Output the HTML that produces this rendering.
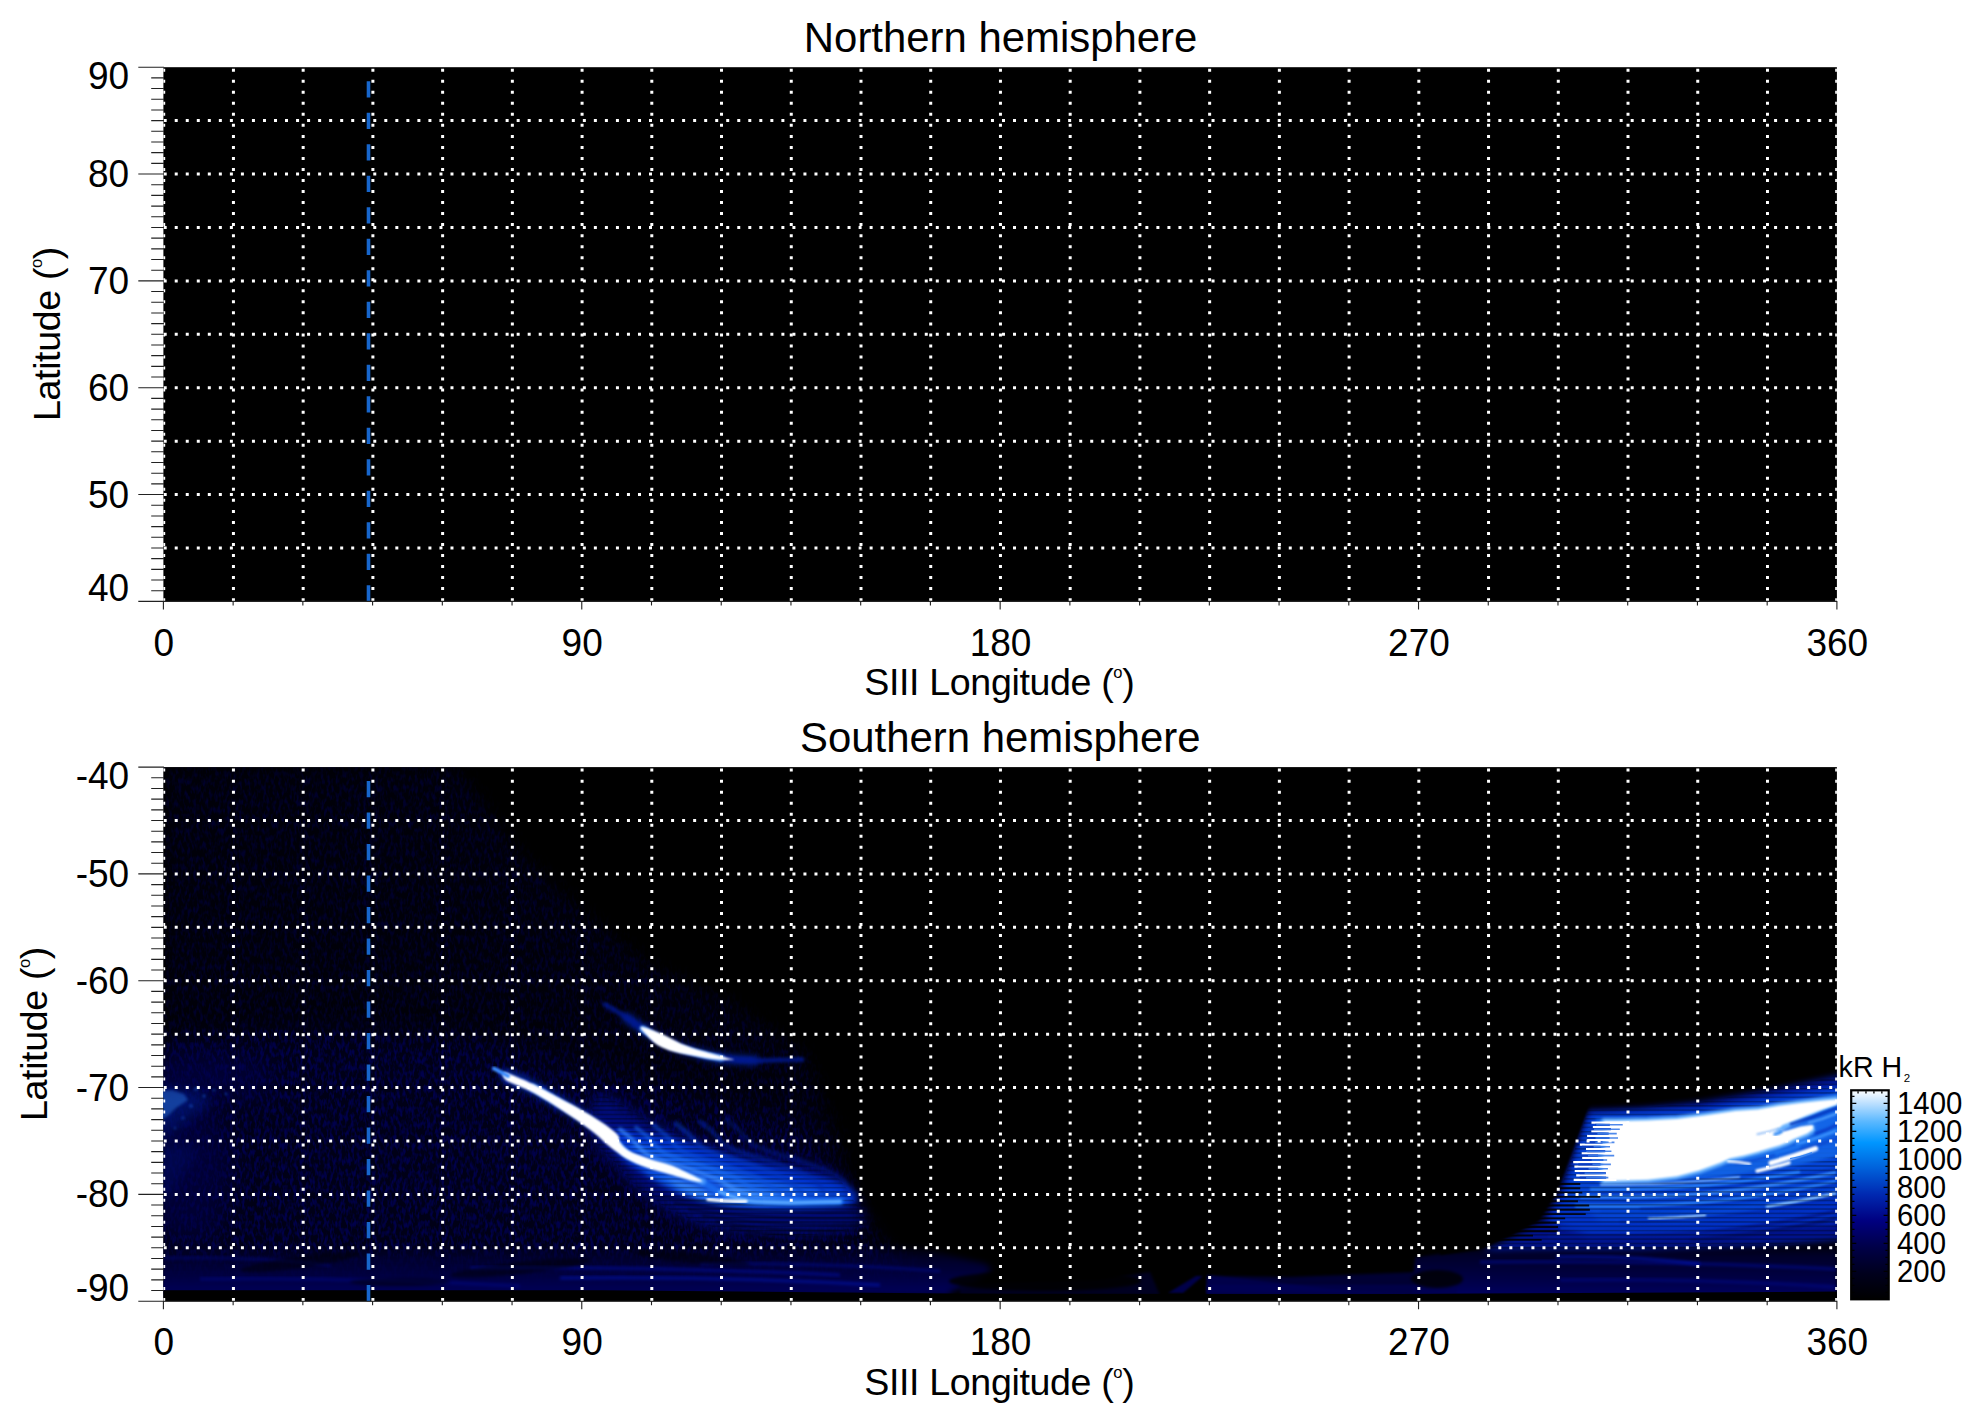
<!DOCTYPE html>
<html lang="en"><head><meta charset="utf-8"><title>Northern / Southern hemisphere</title>
<style>html,body{margin:0;padding:0;background:#fff}body{width:1983px;height:1423px;overflow:hidden}svg{display:block}text{font-family:'Liberation Sans', Arial, Helvetica, sans-serif;fill:#000}</style></head><body>
<svg width="1983" height="1423" viewBox="0 0 1983 1423">
<defs>
<clipPath id="cp1"><rect x="163.4" y="67.2" width="1673.5" height="534.2"/></clipPath>
<clipPath id="cp2"><rect x="163.4" y="767.1" width="1673.5" height="534.1"/></clipPath>
<linearGradient id="cbar" x1="0" y1="1" x2="0" y2="0"><stop offset="0" stop-color="#000000"/><stop offset="0.12" stop-color="#00001c"/><stop offset="0.25" stop-color="#000048"/><stop offset="0.375" stop-color="#000080"/><stop offset="0.5" stop-color="#0028b0"/><stop offset="0.625" stop-color="#0060da"/><stop offset="0.75" stop-color="#0096ff"/><stop offset="0.85" stop-color="#5ab8ff"/><stop offset="0.93" stop-color="#b4dcff"/><stop offset="1" stop-color="#ffffff"/></linearGradient>
<filter id="b1" x="-30%" y="-30%" width="160%" height="160%" color-interpolation-filters="sRGB"><feGaussianBlur stdDeviation="0.8"/></filter>
<filter id="b2" x="-30%" y="-30%" width="160%" height="160%" color-interpolation-filters="sRGB"><feGaussianBlur stdDeviation="1.6"/></filter>
<filter id="b4" x="-30%" y="-30%" width="160%" height="160%" color-interpolation-filters="sRGB"><feGaussianBlur stdDeviation="3.2"/></filter>
<filter id="b8" x="-30%" y="-30%" width="160%" height="160%" color-interpolation-filters="sRGB"><feGaussianBlur stdDeviation="7"/></filter>
<filter id="b16" x="-30%" y="-30%" width="160%" height="160%" color-interpolation-filters="sRGB"><feGaussianBlur stdDeviation="14"/></filter>
<filter id="b30" x="-30%" y="-30%" width="160%" height="160%" color-interpolation-filters="sRGB"><feGaussianBlur stdDeviation="28"/></filter>
<filter id="noise" x="0" y="0" width="100%" height="100%" color-interpolation-filters="sRGB"><feTurbulence type="fractalNoise" baseFrequency="0.33 0.14" numOctaves="2" seed="7" result="t"/><feColorMatrix in="t" type="matrix" values="0 0 0 0 0  0 0 0 0 0  0 0 0 0 0.36  3.2 0 0 0 -1.36" result="c"/><feGaussianBlur in="SourceAlpha" stdDeviation="9" result="a"/><feComposite in="c" in2="a" operator="in"/></filter>
<linearGradient id="gband" x1="0" y1="0" x2="0" y2="1"><stop offset="0" stop-color="#000028" stop-opacity="0"/><stop offset="0.3" stop-color="#000034" stop-opacity="0.8"/><stop offset="0.8" stop-color="#00004c" stop-opacity="1"/><stop offset="1" stop-color="#000060"/></linearGradient>
<pattern id="scan" width="8" height="4.3" patternUnits="userSpaceOnUse"><rect width="8" height="1.5" fill="#000" opacity="0.32"/></pattern>
</defs>
<rect width="1983" height="1423" fill="#fff"/>
<rect x="163.4" y="67.2" width="1673.5" height="534.2" fill="#000"/>
<rect x="163.4" y="767.1" width="1673.5" height="534.1" fill="#000"/>
<g clip-path="url(#cp2)">
<path d="M163.4,985 L163.4,767 L458,767 L514,846 L589,917 L656,969 L727,1000 L806,1053 L836,1130 L861,1214 L882,1246 L960,1292 L163.4,1292Z" fill="#00000a" opacity="0.9" filter="url(#b8)"/>
<path d="M163.4,1040 L300,1030 L470,1040 L560,1060 L700,1100 L800,1120 L850,1200 L880,1250 L940,1291 L163.4,1291Z" fill="#00001a" opacity="0.85" filter="url(#b16)"/>
<path d="M163.4,985 L163.4,767 L458,767 L514,846 L589,917 L656,969 L727,1000 L806,1053 L836,1130 L861,1214 L882,1246 L960,1292 L163.4,1292Z" fill="#fff" filter="url(#noise)" opacity="0.4"/>
<path d="M163.4,1040 L300,1030 L470,1040 L560,1060 L700,1100 L800,1120 L850,1200 L880,1250 L940,1291 L163.4,1291Z" fill="#fff" filter="url(#noise)" opacity="0.6"/>
<path d="M143.4,1243.52 L905,1243.52 L950,1255.52 L985,1263.52 L992,1269.52 L975,1283.5 L950,1291.5 L950,1295.5 L143.4,1295.5Z" fill="url(#gband)" filter="url(#b4)"/>
<path d="M1836.9,1239.52 L1560,1239.52 L1470,1249.52 L1415,1257.52 L1412,1295.5 L1836.9,1295.5Z" fill="url(#gband)" filter="url(#b2)"/>
<path d="M1207,1276 L1290,1277 L1420,1272 L1420,1295.5 L1207,1295.5Z" fill="#000040" opacity="0.8" filter="url(#b2)"/>
<path d="M960,1284 L1100,1280 L1150,1272 L1160,1295.5 L960,1295.5Z" fill="#00002a" opacity="0.8" filter="url(#b2)"/>
<rect x="1207" y="1284.64" width="250" height="10.86" fill="#000050" opacity="0.7" filter="url(#b1)"/>
<ellipse cx="1045" cy="1281" rx="96" ry="10" fill="#000" opacity="0.85" filter="url(#b2)"/>
<ellipse cx="1437" cy="1279" rx="26" ry="9" fill="#000" opacity="0.8" filter="url(#b2)"/>
<path d="M1168,1293 L1196,1276 L1203,1276 L1183,1293Z" fill="#00005c" opacity="0.8" filter="url(#b1)"/>
<path d="M1206,1293 L1207,1275 L1245,1279 L1330,1289 L1400,1293Z" fill="#00005c" opacity="0.55" filter="url(#b1)"/>
<path d="M470,1268 Q655,1266 840,1275" stroke="#000c98" stroke-width="3.5" opacity="0.6" fill="none" filter="url(#b2)"/>
<path d="M560,1278 Q720,1276 880,1285" stroke="#0014b0" stroke-width="3.5" opacity="0.55" fill="none" filter="url(#b2)"/>
<path d="M200,1279 Q360,1277 520,1286" stroke="#000888" stroke-width="3.5" opacity="0.5" fill="none" filter="url(#b2)"/>
<path d="M163,1258 Q246.5,1256 330,1265" stroke="#000878" stroke-width="3.5" opacity="0.5" fill="none" filter="url(#b2)"/>
<path d="M700,1264 Q820,1262 940,1271" stroke="#000c98" stroke-width="3.5" opacity="0.45" fill="none" filter="url(#b2)"/>
<path d="M1480,1262 Q1658,1260 1836,1269" stroke="#000c9c" stroke-width="3.5" opacity="0.5" fill="none" filter="url(#b2)"/>
<path d="M1560,1280 Q1698,1278 1836,1287" stroke="#000a90" stroke-width="3.5" opacity="0.5" fill="none" filter="url(#b2)"/>
<path d="M1556,1257 Q1628,1255 1700,1264" stroke="#0014b4" stroke-width="3.5" opacity="0.6" fill="none" filter="url(#b2)"/>
<ellipse cx="300" cy="1262" rx="60" ry="6" transform="rotate(-8 300 1262)" fill="#000" opacity="0.45" filter="url(#b2)"/>
<ellipse cx="520" cy="1268" rx="70" ry="6" transform="rotate(-6 520 1268)" fill="#000" opacity="0.45" filter="url(#b2)"/>
<ellipse cx="690" cy="1258" rx="60" ry="5" transform="rotate(6 690 1258)" fill="#000" opacity="0.45" filter="url(#b2)"/>
<ellipse cx="400" cy="1282" rx="50" ry="4" transform="rotate(0 400 1282)" fill="#000" opacity="0.45" filter="url(#b2)"/>
<path d="M153.4,1085 L180,1088 L200,1092 L212,1100 L195,1114 L176,1130 L153.4,1140Z" fill="#0038c8" opacity="0.55" filter="url(#b8)"/>
<path d="M157.4,1091 L172,1090 L184,1094 L188,1100 L176,1108 L168,1116 L157.4,1122Z" fill="#2a84f8" opacity="0.95" filter="url(#b2)"/>
<circle cx="196" cy="1089" r="2.2" fill="#1a64e0" opacity="0.8" filter="url(#b1)"/>
<circle cx="204" cy="1096" r="1.8" fill="#1a64e0" opacity="0.8" filter="url(#b1)"/>
<circle cx="191" cy="1106" r="2" fill="#1a64e0" opacity="0.8" filter="url(#b1)"/>
<circle cx="214" cy="1090" r="1.6" fill="#1a64e0" opacity="0.8" filter="url(#b1)"/>
<circle cx="183" cy="1118" r="1.8" fill="#1a64e0" opacity="0.8" filter="url(#b1)"/>
<circle cx="226" cy="1094" r="1.4" fill="#1a64e0" opacity="0.8" filter="url(#b1)"/>
<circle cx="175" cy="1128" r="1.6" fill="#1a64e0" opacity="0.8" filter="url(#b1)"/>
<path d="M157.4,1140 L200,1150 L185,1170 L157.4,1215Z" fill="#0024a0" opacity="0.45" filter="url(#b8)"/>
<ellipse cx="190" cy="1078" rx="85" ry="26" fill="#00004c" opacity="0.6" filter="url(#b16)"/>
<path d="M143.4,1100 L215,1110 L235,1160 L215,1240 L143.4,1240Z" fill="#000048" opacity="0.6" filter="url(#b16)"/>
<path d="M598.62,1095.56 C607.8,1092.74 630.39,1112.51 649.46,1120.98 C668.52,1129.46 691.82,1140.05 713,1146.4 C734.18,1152.76 757.13,1154.87 776.55,1159.11 C795.96,1163.35 816.79,1165.11 829.5,1171.82 C842.21,1178.53 847.51,1190.53 852.8,1199.36 C858.1,1208.18 870.45,1218.77 861.28,1224.77 C852.1,1230.78 822.44,1235.01 797.73,1235.37 C773.02,1235.72 737.71,1233.25 713,1226.89 C688.29,1220.54 665.7,1207.83 649.46,1197.24 C633.22,1186.65 624.74,1173.23 615.56,1163.35 C606.39,1153.46 597.21,1149.23 594.38,1137.93 C591.56,1126.63 589.44,1098.39 598.62,1095.56Z" fill="#000c7c" opacity="0.95" filter="url(#b8)"/>
<path d="M615.56,1129.46 C618.39,1125.57 631.8,1132.28 640.98,1133.69 C650.16,1135.1 658.63,1135.1 670.64,1137.93 C682.64,1140.75 698.88,1146.4 713,1150.64 C727.12,1154.87 741.24,1159.82 755.37,1163.35 C769.49,1166.88 783.61,1168.64 797.73,1171.82 C811.85,1175 830.74,1178.88 840.09,1182.41 C849.45,1185.94 852.1,1189.47 853.86,1193 C855.63,1196.53 860.04,1200.84 850.68,1203.59 C841.33,1206.35 815.38,1208.75 797.73,1209.52 C780.08,1210.3 762.43,1210.3 744.77,1208.25 C727.12,1206.2 707.71,1202.6 691.82,1197.24 C675.93,1191.87 660.75,1182.76 649.46,1176.06 C638.16,1169.35 629.69,1164.76 624.04,1156.99 C618.39,1149.23 612.74,1133.34 615.56,1129.46Z" fill="#0034d0" opacity="0.97" filter="url(#b4)"/>
<path d="M628.27,1144.28 C631.8,1140.51 656.52,1148.34 670.64,1151.7 C684.76,1155.05 698.88,1160.17 713,1164.41 C727.12,1168.64 741.24,1173.58 755.37,1177.12 C769.49,1180.65 783.61,1182.76 797.73,1185.59 C811.85,1188.41 832.68,1191.06 840.09,1194.06 C847.51,1197.06 856.33,1201.93 842.21,1203.59 C828.09,1205.25 780.43,1205.36 755.37,1204.02 C730.3,1202.67 709.47,1200.49 691.82,1195.54 C674.17,1190.6 660.05,1182.9 649.46,1174.36 C638.86,1165.82 624.74,1148.06 628.27,1144.28Z" fill="#1462ee" opacity="0.9" filter="url(#b4)"/>
<path d="M662.16,1163.35 C664.64,1161.12 681.58,1169.52 691.82,1172.88 C702.06,1176.23 711.24,1180.29 723.59,1183.47 C735.95,1186.65 756.42,1189.58 765.96,1191.94 C775.49,1194.31 781.49,1195.65 780.78,1197.66 C780.08,1199.67 773.02,1203.45 761.72,1204.02 C750.42,1204.58 727.12,1204.02 713,1201.05 C698.88,1198.09 685.46,1192.51 676.99,1186.22 C668.52,1179.94 659.69,1165.57 662.16,1163.35Z" fill="#3a8cff" opacity="0.85" filter="url(#b4)"/>
<path d="M660,1197 Q760,1209 872,1205" stroke="#000" stroke-width="2.2" fill="none" opacity="0.45" filter="url(#b1)"/>
<path d="M674,1203.2 Q766,1215.2 874,1211.2" stroke="#000" stroke-width="2.2" fill="none" opacity="0.45" filter="url(#b1)"/>
<path d="M688,1209.4 Q772,1221.4 876,1217.4" stroke="#000" stroke-width="2.2" fill="none" opacity="0.45" filter="url(#b1)"/>
<path d="M702,1215.6 Q778,1227.6 878,1223.6" stroke="#000" stroke-width="2.2" fill="none" opacity="0.45" filter="url(#b1)"/>
<path d="M716,1221.8 Q784,1233.8 880,1229.8" stroke="#000" stroke-width="2.2" fill="none" opacity="0.45" filter="url(#b1)"/>
<path d="M730,1228 Q790,1240 882,1236" stroke="#000" stroke-width="2.2" fill="none" opacity="0.45" filter="url(#b1)"/>
<path d="M744,1234.2 Q796,1246.2 884,1242.2" stroke="#000" stroke-width="2.2" fill="none" opacity="0.45" filter="url(#b1)"/>
<path d="M598.62,1095.56 C607.8,1092.74 630.39,1112.51 649.46,1120.98 C668.52,1129.46 691.82,1140.05 713,1146.4 C734.18,1152.76 757.13,1154.87 776.55,1159.11 C795.96,1163.35 816.79,1165.11 829.5,1171.82 C842.21,1178.53 847.51,1190.53 852.8,1199.36 C858.1,1208.18 870.45,1218.77 861.28,1224.77 C852.1,1230.78 822.44,1235.01 797.73,1235.37 C773.02,1235.72 737.71,1233.25 713,1226.89 C688.29,1220.54 665.7,1207.83 649.46,1197.24 C633.22,1186.65 624.74,1173.23 615.56,1163.35 C606.39,1153.46 597.21,1149.23 594.38,1137.93 C591.56,1126.63 589.44,1098.39 598.62,1095.56Z" fill="url(#scan)"/>
<path d="M626,1017 C628.83,1019 637.5,1025.33 643,1029 C648.5,1032.67 653.17,1035.92 659,1039 C664.83,1042.08 671.33,1045.08 678,1047.5 C684.67,1049.92 691.83,1051.7 699,1053.5 C706.17,1055.3 711.67,1057.12 721,1058.3 C730.33,1059.48 749.33,1060.22 755,1060.6" stroke="#0026b4" stroke-width="9" stroke-linecap="round" fill="none" opacity="0.8" filter="url(#b4)"/>
<path d="M605,1004.5 C608.5,1006.58 619.67,1012.92 626,1017 C632.33,1021.08 637.5,1025.33 643,1029 C648.5,1032.67 653.17,1035.92 659,1039 C664.83,1042.08 671.33,1045.08 678,1047.5 C684.67,1049.92 691.83,1051.7 699,1053.5 C706.17,1055.3 711.67,1057.12 721,1058.3 C730.33,1059.48 741.5,1060.38 755,1060.6 C768.5,1060.82 794.17,1059.77 802,1059.6" stroke="#001890" stroke-width="5" stroke-linecap="round" fill="none" opacity="0.8" filter="url(#b2)"/>
<path d="M506.5,1076 C510.92,1077.93 524.75,1083.43 533,1087.6 C541.25,1091.77 548.07,1096.32 556,1101 C563.93,1105.68 573.15,1110.95 580.6,1115.7 C588.05,1120.45 595.22,1125.45 600.7,1129.5 C606.18,1133.55 608.9,1135.78 613.5,1140 C618.1,1144.22 622.67,1151 628.3,1154.8 C633.93,1158.6 640.25,1160.32 647.3,1162.8 C654.35,1165.28 663.18,1167.23 670.6,1169.7 C678.02,1172.17 686.5,1175.63 691.8,1177.6 C697.1,1179.57 697.7,1179.1 702.4,1181.5 C707.1,1183.9 717.07,1190.25 720,1192" stroke="#0034cc" stroke-width="12" stroke-linecap="round" fill="none" opacity="0.85" filter="url(#b4)"/>
<path d="M618.7,1128.5 C620.83,1130.25 626.9,1134.78 631.5,1139 C636.1,1143.22 640.67,1150 646.3,1153.8 C651.93,1157.6 658.25,1159.32 665.3,1161.8 C672.35,1164.28 681.18,1166.23 688.6,1168.7 C696.02,1171.17 704.5,1174.63 709.8,1176.6 C715.1,1178.57 715.7,1178.1 720.4,1180.5 C725.1,1182.9 731.18,1188.18 738,1191 C744.82,1193.82 750.83,1196.06 761.3,1197.4 C771.77,1198.74 794.22,1198.78 800.8,1199.05" stroke="#3c8cff" stroke-width="4" fill="none" opacity="0.7" filter="url(#b2)"/>
<path d="M634.7,1126.5 C636.83,1128.25 642.9,1132.78 647.5,1137 C652.1,1141.22 656.67,1148 662.3,1151.8 C667.93,1155.6 674.25,1157.32 681.3,1159.8 C688.35,1162.28 697.18,1164.23 704.6,1166.7 C712.02,1169.17 720.5,1172.63 725.8,1174.6 C731.1,1176.57 731.7,1176.1 736.4,1178.5 C741.1,1180.9 747.72,1186.05 754,1189 C760.28,1191.95 764.7,1194.67 774.1,1196.2 C783.5,1197.73 804.35,1197.83 810.4,1198.15" stroke="#1868f0" stroke-width="4" fill="none" opacity="0.6" filter="url(#b2)"/>
<path d="M652.7,1124.5 C654.83,1126.25 660.9,1130.78 665.5,1135 C670.1,1139.22 674.67,1146 680.3,1149.8 C685.93,1153.6 692.25,1155.32 699.3,1157.8 C706.35,1160.28 715.18,1162.23 722.6,1164.7 C730.02,1167.17 738.5,1170.63 743.8,1172.6 C749.1,1174.57 749.7,1174.1 754.4,1176.5 C759.1,1178.9 766.32,1183.92 772,1187 C777.68,1190.08 780.3,1193.29 788.5,1195 C796.7,1196.71 815.75,1196.88 821.2,1197.25" stroke="#0a4cd8" stroke-width="4.5" fill="none" opacity="0.55" filter="url(#b2)"/>
<path d="M674.7,1122.5 C676.83,1124.25 682.9,1128.78 687.5,1133 C692.1,1137.22 696.67,1144 702.3,1147.8 C707.93,1151.6 714.25,1153.32 721.3,1155.8 C728.35,1158.28 737.18,1160.23 744.6,1162.7 C752.02,1165.17 760.5,1168.63 765.8,1170.6 C771.1,1172.57 771.7,1172.1 776.4,1174.5 C781.1,1176.9 789.05,1181.78 794,1185 C798.95,1188.22 799.37,1191.91 806.1,1193.8 C812.83,1195.69 829.68,1195.92 834.4,1196.35" stroke="#0438c0" stroke-width="5" fill="none" opacity="0.5" filter="url(#b2)"/>
<path d="M698.7,1120.5 C700.83,1122.25 706.9,1126.78 711.5,1131 C716.1,1135.22 720.67,1142 726.3,1145.8 C731.93,1149.6 738.25,1151.32 745.3,1153.8 C752.35,1156.28 761.18,1158.23 768.6,1160.7 C776.02,1163.17 784.5,1166.63 789.8,1168.6 C795.1,1170.57 795.7,1170.1 800.4,1172.5 C805.1,1174.9 813.85,1179.65 818,1183 C822.15,1186.35 820.17,1190.52 825.3,1192.6 C830.43,1194.67 844.88,1194.97 848.8,1195.45" stroke="#0028a8" stroke-width="5" fill="none" opacity="0.45" filter="url(#b2)"/>
<path d="M724.7,1118.5 C726.83,1120.25 732.9,1124.78 737.5,1129 C742.1,1133.22 746.67,1140 752.3,1143.8 C757.93,1147.6 764.25,1149.32 771.3,1151.8 C778.35,1154.28 787.18,1156.23 794.6,1158.7 C802.02,1161.17 810.5,1164.63 815.8,1166.6 C821.1,1168.57 821.7,1168.1 826.4,1170.5 C831.1,1172.9 840.72,1177.52 844,1181 C847.28,1184.48 843.77,1189.14 846.1,1191.4 C848.43,1193.66 856.02,1194.03 858,1194.55" stroke="#001c90" stroke-width="5" fill="none" opacity="0.4" filter="url(#b2)"/>
<path d="M702.4,1181.5 C705.33,1183.25 712.58,1188.83 720,1192 C727.42,1195.17 735.23,1198.73 746.9,1200.5 C758.57,1202.27 774.48,1202.43 790,1202.6 C805.52,1202.77 831.67,1201.68 840,1201.5" stroke="#1a6cf0" stroke-width="7" stroke-linecap="round" fill="none" opacity="0.9" filter="url(#b2)"/>
<path d="M720,1192 C724.48,1193.42 735.23,1198.73 746.9,1200.5 C758.57,1202.27 774.48,1202.43 790,1202.6 C805.52,1202.77 831.67,1201.68 840,1201.5" stroke="#5aa8ff" stroke-width="3.6" stroke-linecap="round" fill="none" opacity="0.95" filter="url(#b1)"/>
<path d="M533,1087.6 C536.83,1089.83 548.07,1096.32 556,1101 C563.93,1105.68 573.15,1110.95 580.6,1115.7 C588.05,1120.45 595.22,1125.45 600.7,1129.5 C606.18,1133.55 608.9,1135.78 613.5,1140 C618.1,1144.22 622.67,1151 628.3,1154.8 C633.93,1158.6 640.25,1160.32 647.3,1162.8 C654.35,1165.28 663.18,1167.23 670.6,1169.7 C678.02,1172.17 686.5,1175.63 691.8,1177.6 C697.1,1179.57 700.63,1180.85 702.4,1181.5" stroke="#4c9cff" stroke-width="7" stroke-linecap="round" fill="none" opacity="0.9" filter="url(#b2)"/>
<path d="M643,1029 C645.67,1030.67 653.17,1035.92 659,1039 C664.83,1042.08 671.33,1045.08 678,1047.5 C684.67,1049.92 691.83,1051.7 699,1053.5 C706.17,1055.3 717.33,1057.5 721,1058.3" stroke="#4c9cff" stroke-width="6.5" stroke-linecap="round" fill="none" opacity="0.9" filter="url(#b2)"/>
<path d="M641,1026.7 C643.17,1026.3 653.3,1030.27 660,1033.1 C666.7,1035.93 674.13,1040.7 681.2,1043.7 C688.27,1046.7 694.98,1048.82 702.4,1051.1 C709.82,1053.38 720.43,1055.98 725.7,1057.4 C730.97,1058.82 735.42,1059.23 734,1059.6 C732.58,1059.97 723.52,1060.15 717.2,1059.6 C710.88,1059.05 703.15,1057.55 696.1,1056.3 C689.05,1055.05 681.27,1053.95 674.9,1052.1 C668.53,1050.25 662.55,1047.97 657.9,1045.2 C653.25,1042.43 649.82,1038.58 647,1035.5 C644.18,1032.42 638.83,1027.1 641,1026.7Z" fill="#fff" filter="url(#b1)"/>
<path d="M503.5,1072.4 C505.6,1072 513.08,1075.45 518,1077.4 C522.92,1079.35 526.1,1080.65 533,1084.1 C539.9,1087.55 550.8,1093.5 559.4,1098.1 C568,1102.7 576.93,1107.25 584.6,1111.7 C592.27,1116.15 599.82,1120.85 605.4,1124.8 C610.98,1128.75 615.75,1132.6 618.1,1135.4 C620.45,1138.2 617.8,1139.1 619.5,1141.6 C621.2,1144.1 623.4,1147.55 628.3,1150.4 C633.2,1153.25 641.85,1156.23 648.9,1158.7 C655.95,1161.17 663.45,1162.48 670.6,1165.2 C677.75,1167.92 686.52,1172.32 691.8,1175 C697.08,1177.68 702.3,1180.38 702.3,1181.3 C702.3,1182.22 697.08,1181.62 691.8,1180.5 C686.52,1179.38 678.27,1176.8 670.6,1174.6 C662.93,1172.4 652.85,1169.8 645.8,1167.3 C638.75,1164.8 634.43,1163.17 628.3,1159.6 C622.17,1156.03 614.37,1150.1 609,1145.9 C603.63,1141.7 601.5,1138.7 596.1,1134.4 C590.7,1130.1 583.77,1125.08 576.6,1120.1 C569.43,1115.12 560.37,1109.1 553.1,1104.5 C545.83,1099.9 538.85,1095.62 533,1092.5 C527.15,1089.38 522.6,1087.92 518,1085.8 C513.4,1083.68 507.82,1082.03 505.4,1079.8 C502.98,1077.57 501.4,1072.8 503.5,1072.4Z" fill="#fff" filter="url(#b1)"/>
<path d="M708,1199.4 Q726,1201.8 746,1201.4" stroke="#fff" stroke-width="3.4" stroke-linecap="round" fill="none" filter="url(#b1)"/>
<path d="M494,1068.6 L508,1076" stroke="#3c8cff" stroke-width="4" stroke-linecap="round" fill="none" filter="url(#b1)"/>
<path d="M1588,1110 L1640,1108 L1700,1102 L1770,1090 L1844.9,1074 L1844.9,1240 L1760,1246 L1640,1250 L1540,1250 L1482,1251 L1514,1236 L1541.7,1221 L1558.6,1193.7 L1575.6,1147Z" fill="#001494" opacity="0.95" filter="url(#b4)"/>
<path d="M1590,1114 L1700,1108 L1844.9,1084 L1844.9,1222 L1700,1234 L1590,1236 L1548,1222 L1562,1194 L1578,1148Z" fill="#0034cc" opacity="0.95" filter="url(#b4)"/>
<path d="M1592,1116 L1700,1111 L1844.9,1089 L1844.9,1196 L1760,1210 L1690,1222 L1600,1220 L1566,1200 L1580,1150Z" fill="#0646d6" opacity="0.95" filter="url(#b4)"/>
<path d="M1560,1228 C1563.83,1228 1575.33,1228 1583,1228 C1590.67,1228 1598.33,1228.01 1606,1228 C1613.67,1227.99 1621.33,1228.05 1629,1227.96 C1636.67,1227.87 1644.33,1227.72 1652,1227.46 C1659.67,1227.2 1667.33,1226.84 1675,1226.4 C1682.67,1225.95 1690.33,1225.41 1698,1224.78 C1705.67,1224.14 1713.33,1223.41 1721,1222.59 C1728.67,1221.77 1736.33,1220.86 1744,1219.85 C1751.67,1218.84 1759.33,1217.74 1767,1216.55 C1774.67,1215.35 1782.33,1214.06 1790,1212.68 C1797.67,1211.3 1805.33,1209.83 1813,1208.26 C1820.67,1206.69 1832.17,1204.1 1836,1203.27" stroke="#0030c0" stroke-width="4" fill="none" opacity="0.8" filter="url(#b1)"/>
<path d="M1548,1236 C1552,1236 1564,1236 1572,1236 C1580,1236 1588,1236 1596,1236 C1604,1236 1612,1236.05 1620,1236 C1628,1235.95 1636,1235.9 1644,1235.69 C1652,1235.49 1660,1235.19 1668,1234.78 C1676,1234.37 1684,1233.86 1692,1233.25 C1700,1232.64 1708,1231.93 1716,1231.12 C1724,1230.3 1732,1229.39 1740,1228.37 C1748,1227.35 1756,1226.23 1764,1225.01 C1772,1223.79 1780,1222.47 1788,1221.04 C1796,1219.62 1804,1218.09 1812,1216.46 C1820,1214.83 1832,1212.14 1836,1211.27" stroke="#001890" stroke-width="4" fill="none" opacity="0.8" filter="url(#b1)"/>
<path d="M1648,1218.88 C1648.81,1218.86 1651.22,1218.78 1652.83,1218.73 C1654.44,1218.67 1656.06,1218.61 1657.67,1218.55 C1659.28,1218.48 1660.89,1218.42 1662.5,1218.34 C1664.11,1218.27 1665.72,1218.19 1667.33,1218.11 C1668.94,1218.03 1670.56,1217.95 1672.17,1217.86 C1673.78,1217.77 1675.39,1217.68 1677,1217.58 C1678.61,1217.48 1680.22,1217.38 1681.83,1217.27 C1683.44,1217.17 1685.06,1217.06 1686.67,1216.94 C1688.28,1216.83 1689.89,1216.71 1691.5,1216.59 C1693.11,1216.47 1694.72,1216.34 1696.33,1216.21 C1697.94,1216.08 1699.56,1215.95 1701.17,1215.81 C1702.78,1215.67 1705.19,1215.45 1706,1215.38" stroke="#a4d4ff" stroke-width="2.8" fill="none" opacity="0.95" filter="url(#b1)"/>
<path d="M1575,1206 C1578.62,1206 1589.5,1206 1596.75,1206 C1604,1206 1611.25,1206.04 1618.5,1206 C1625.75,1205.96 1633,1205.94 1640.25,1205.78 C1647.5,1205.63 1654.75,1205.39 1662,1205.07 C1669.25,1204.74 1676.5,1204.34 1683.75,1203.85 C1691,1203.36 1698.25,1202.78 1705.5,1202.13 C1712.75,1201.47 1720,1200.73 1727.25,1199.9 C1734.5,1199.08 1741.75,1198.17 1749,1197.18 C1756.25,1196.19 1763.5,1195.11 1770.75,1193.96 C1778,1192.8 1785.25,1191.55 1792.5,1190.23 C1799.75,1188.9 1807,1187.49 1814.25,1186 C1821.5,1184.51 1832.38,1182.06 1836,1181.27" stroke="#2c84f8" stroke-width="3.5" fill="none" opacity="0.8" filter="url(#b1)"/>
<path d="M1600,1212 C1603.28,1212 1613.11,1212.03 1619.67,1212 C1626.22,1211.97 1632.78,1211.94 1639.33,1211.8 C1645.89,1211.67 1652.44,1211.46 1659,1211.19 C1665.56,1210.92 1672.11,1210.58 1678.67,1210.18 C1685.22,1209.77 1691.78,1209.29 1698.33,1208.75 C1704.89,1208.2 1711.44,1207.59 1718,1206.91 C1724.56,1206.23 1731.11,1205.48 1737.67,1204.66 C1744.22,1203.84 1750.78,1202.96 1757.33,1202 C1763.89,1201.05 1770.44,1200.03 1777,1198.94 C1783.56,1197.85 1790.11,1196.69 1796.67,1195.46 C1803.22,1194.23 1809.78,1192.93 1816.33,1191.57 C1822.89,1190.21 1832.72,1187.99 1836,1187.27" stroke="#0040d0" stroke-width="3" fill="none" opacity="0.85" filter="url(#b1)"/>
<path d="M1580,1197 C1583.56,1197 1594.22,1197 1601.33,1197 C1608.44,1197 1615.56,1197.05 1622.67,1197 C1629.78,1196.95 1636.89,1196.88 1644,1196.69 C1651.11,1196.51 1658.22,1196.25 1665.33,1195.91 C1672.44,1195.57 1679.56,1195.15 1686.67,1194.64 C1693.78,1194.14 1700.89,1193.56 1708,1192.9 C1715.11,1192.23 1722.22,1191.49 1729.33,1190.66 C1736.44,1189.84 1743.56,1188.94 1750.67,1187.95 C1757.78,1186.97 1764.89,1185.9 1772,1184.75 C1779.11,1183.61 1786.22,1182.38 1793.33,1181.08 C1800.44,1179.77 1807.56,1178.38 1814.67,1176.92 C1821.78,1175.45 1832.44,1173.05 1836,1172.27" stroke="#3c90fc" stroke-width="3.5" fill="none" opacity="0.8" filter="url(#b1)"/>
<path d="M1766,1206.7 C1766.97,1206.55 1769.89,1206.09 1771.83,1205.78 C1773.78,1205.47 1775.72,1205.15 1777.67,1204.82 C1779.61,1204.5 1781.56,1204.17 1783.5,1203.83 C1785.44,1203.49 1787.39,1203.15 1789.33,1202.8 C1791.28,1202.45 1793.22,1202.1 1795.17,1201.74 C1797.11,1201.38 1799.06,1201.01 1801,1200.64 C1802.94,1200.26 1804.89,1199.88 1806.83,1199.5 C1808.78,1199.11 1810.72,1198.72 1812.67,1198.33 C1814.61,1197.93 1816.56,1197.53 1818.5,1197.12 C1820.44,1196.71 1822.39,1196.29 1824.33,1195.87 C1826.28,1195.45 1828.22,1195.02 1830.17,1194.59 C1832.11,1194.16 1835.03,1193.49 1836,1193.27" stroke="#8cc8ff" stroke-width="3" fill="none" opacity="0.95" filter="url(#b1)"/>
<path d="M1590,1189 C1592.92,1189 1601.67,1189 1607.5,1189 C1613.33,1189 1619.17,1189.03 1625,1188.99 C1630.83,1188.94 1636.67,1188.87 1642.5,1188.73 C1648.33,1188.59 1654.17,1188.4 1660,1188.15 C1665.83,1187.9 1671.67,1187.6 1677.5,1187.25 C1683.33,1186.89 1689.17,1186.48 1695,1186.02 C1700.83,1185.55 1706.67,1185.04 1712.5,1184.47 C1718.33,1183.89 1724.17,1183.27 1730,1182.59 C1735.83,1181.91 1741.67,1181.17 1747.5,1180.38 C1753.33,1179.6 1759.17,1178.75 1765,1177.86 C1770.83,1176.96 1776.67,1176.01 1782.5,1175 C1788.33,1174 1797.08,1172.36 1800,1171.83" stroke="#2c88ff" stroke-width="3.5" fill="none" opacity="0.8" filter="url(#b1)"/>
<path d="M1570,1201 C1571.81,1201 1577.22,1201 1580.83,1201 C1584.44,1201 1588.06,1201 1591.67,1201 C1595.28,1201 1598.89,1201 1602.5,1201 C1606.11,1201 1609.72,1201 1613.33,1201 C1616.94,1201 1620.56,1201.01 1624.17,1200.99 C1627.78,1200.97 1631.39,1200.94 1635,1200.88 C1638.61,1200.82 1642.22,1200.75 1645.83,1200.65 C1649.44,1200.55 1653.06,1200.43 1656.67,1200.29 C1660.28,1200.15 1663.89,1199.99 1667.5,1199.8 C1671.11,1199.62 1674.72,1199.42 1678.33,1199.2 C1681.94,1198.97 1685.56,1198.73 1689.17,1198.46 C1692.78,1198.2 1698.19,1197.75 1700,1197.61" stroke="#0038c8" stroke-width="2.5" fill="none" opacity="0.8" filter="url(#b1)"/>
<path d="M1690,1240.4 C1692.03,1240.24 1698.11,1239.78 1702.17,1239.42 C1706.22,1239.07 1710.28,1238.69 1714.33,1238.28 C1718.39,1237.88 1722.44,1237.45 1726.5,1236.99 C1730.56,1236.53 1734.61,1236.05 1738.67,1235.54 C1742.72,1235.03 1746.78,1234.49 1750.83,1233.93 C1754.89,1233.37 1758.94,1232.78 1763,1232.16 C1767.06,1231.55 1771.11,1230.91 1775.17,1230.24 C1779.22,1229.57 1783.28,1228.88 1787.33,1228.16 C1791.39,1227.44 1795.44,1226.69 1799.5,1225.92 C1803.56,1225.15 1807.61,1224.35 1811.67,1223.53 C1815.72,1222.71 1819.78,1221.86 1823.83,1220.98 C1827.89,1220.1 1833.97,1218.72 1836,1218.27" stroke="#001070" stroke-width="4" fill="none" opacity="0.7" filter="url(#b1)"/>
<path d="M1620,1222 C1623,1221.97 1632,1221.94 1638,1221.83 C1644,1221.71 1650,1221.54 1656,1221.31 C1662,1221.08 1668,1220.8 1674,1220.45 C1680,1220.11 1686,1219.71 1692,1219.25 C1698,1218.79 1704,1218.28 1710,1217.71 C1716,1217.13 1722,1216.5 1728,1215.82 C1734,1215.13 1740,1214.39 1746,1213.59 C1752,1212.78 1758,1211.93 1764,1211.01 C1770,1210.09 1776,1209.12 1782,1208.09 C1788,1207.06 1794,1205.97 1800,1204.83 C1806,1203.68 1812,1202.48 1818,1201.22 C1824,1199.96 1833,1197.93 1836,1197.27" stroke="#0028b0" stroke-width="3" fill="none" opacity="0.7" filter="url(#b1)"/>
<path d="M1600,1193 C1603.28,1193 1613.11,1193.03 1619.67,1193 C1626.22,1192.97 1632.78,1192.94 1639.33,1192.8 C1645.89,1192.67 1652.44,1192.46 1659,1192.19 C1665.56,1191.92 1672.11,1191.58 1678.67,1191.18 C1685.22,1190.77 1691.78,1190.29 1698.33,1189.75 C1704.89,1189.2 1711.44,1188.59 1718,1187.91 C1724.56,1187.23 1731.11,1186.48 1737.67,1185.66 C1744.22,1184.84 1750.78,1183.96 1757.33,1183 C1763.89,1182.05 1770.44,1181.03 1777,1179.94 C1783.56,1178.85 1790.11,1177.69 1796.67,1176.46 C1803.22,1175.23 1809.78,1173.93 1816.33,1172.57 C1822.89,1171.21 1832.72,1168.99 1836,1168.27" stroke="#0030c0" stroke-width="2" fill="none" opacity="0.7" filter="url(#b1)"/>
<path d="M1640,1208.79 C1642.72,1208.71 1650.89,1208.51 1656.33,1208.3 C1661.78,1208.09 1667.22,1207.83 1672.67,1207.53 C1678.11,1207.23 1683.56,1206.87 1689,1206.48 C1694.44,1206.08 1699.89,1205.63 1705.33,1205.14 C1710.78,1204.65 1716.22,1204.11 1721.67,1203.52 C1727.11,1202.94 1732.56,1202.3 1738,1201.62 C1743.44,1200.94 1748.89,1200.21 1754.33,1199.44 C1759.78,1198.66 1765.22,1197.84 1770.67,1196.97 C1776.11,1196.1 1781.56,1195.18 1787,1194.22 C1792.44,1193.26 1797.89,1192.24 1803.33,1191.19 C1808.78,1190.13 1814.22,1189.02 1819.67,1187.87 C1825.11,1186.72 1833.28,1184.87 1836,1184.27" stroke="#0028b4" stroke-width="2" fill="none" opacity="0.7" filter="url(#b1)"/>
<path d="M1600,1184.5 C1601.94,1184.5 1607.78,1184.5 1611.67,1184.5 C1615.56,1184.5 1619.44,1184.51 1623.33,1184.49 C1627.22,1184.47 1631.11,1184.44 1635,1184.38 C1638.89,1184.32 1642.78,1184.23 1646.67,1184.12 C1650.56,1184.01 1654.44,1183.88 1658.33,1183.72 C1662.22,1183.56 1666.11,1183.38 1670,1183.17 C1673.89,1182.97 1677.78,1182.74 1681.67,1182.48 C1685.56,1182.23 1689.44,1181.95 1693.33,1181.65 C1697.22,1181.35 1701.11,1181.02 1705,1180.67 C1708.89,1180.32 1712.78,1179.95 1716.67,1179.55 C1720.56,1179.15 1724.44,1178.73 1728.33,1178.28 C1732.22,1177.83 1738.06,1177.1 1740,1176.87" stroke="#8cc4ff" stroke-width="2.4" fill="none" opacity="0.8" filter="url(#b1)"/>
<path d="M1588,1110 L1640,1108 L1700,1102 L1770,1090 L1844.9,1074 L1844.9,1240 L1760,1246 L1640,1250 L1540,1250 L1482,1251 L1514,1236 L1541.7,1221 L1558.6,1193.7 L1575.6,1147Z" fill="url(#scan)"/>
<path d="M1596,1118.5 L1609.83,1118.5 L1623.67,1118.49 L1637.5,1118.34 L1651.33,1117.98 L1665.17,1117.42 L1679,1116.66 L1692.83,1115.69 L1706.67,1114.52 L1720.5,1113.15 L1734.33,1111.57 L1748.17,1109.79 L1762,1107.81 L1775.83,1105.63 L1789.67,1103.24 L1803.5,1100.65 L1817.33,1097.86 L1831.17,1094.87 L1845,1091.67 L1845,1154.67 L1831.17,1157.87 L1817.33,1160.86 L1803.5,1163.65 L1789.67,1166.24 L1775.83,1168.63 L1762,1170.81 L1748.17,1172.79 L1734.33,1174.57 L1720.5,1176.15 L1706.67,1177.52 L1692.83,1178.69 L1679,1179.66 L1665.17,1180.42 L1651.33,1180.98 L1637.5,1181.34 L1623.67,1181.49 L1609.83,1181.5 L1596,1181.5Z" fill="#1264e6" opacity="0.9" filter="url(#b2)"/>
<path d="M1604,1121.3 L1616,1121.2 L1647.7,1120.5 L1677,1119 L1706.2,1115.3 L1735.5,1110.9 L1758.1,1109.6 L1779.2,1105.8 L1800.3,1103 L1821.4,1100.8 L1842.9,1098.6 L1842.9,1102.6 L1821.4,1109.7 L1807.3,1115.3 L1793.2,1120.9 L1782.7,1125.1 L1773.6,1132.6 L1786.2,1129.2 L1800.3,1125.1 L1810.8,1123 L1813.4,1126 L1812.9,1129.4 L1807.3,1133.6 L1793.2,1139.2 L1788.3,1142 L1779.2,1145.5 L1769.4,1148.3 L1758.1,1151.8 L1744.1,1155.4 L1730,1158.2 L1720.9,1162.6 L1698.9,1170.6 L1677,1176.2 L1647.7,1179.7 L1604,1181.1 L1602.4,1165 L1603.9,1151.9 L1608.3,1135.8Z" fill="#6ab4ff" stroke="#6ab4ff" stroke-width="6" stroke-linejoin="round" filter="url(#b2)"/>
<path d="M1604,1121.3 L1616,1121.2 L1647.7,1120.5 L1677,1119 L1706.2,1115.3 L1735.5,1110.9 L1758.1,1109.6 L1779.2,1105.8 L1800.3,1103 L1821.4,1100.8 L1842.9,1098.6 L1842.9,1102.6 L1821.4,1109.7 L1807.3,1115.3 L1793.2,1120.9 L1782.7,1125.1 L1773.6,1132.6 L1786.2,1129.2 L1800.3,1125.1 L1810.8,1123 L1813.4,1126 L1812.9,1129.4 L1807.3,1133.6 L1793.2,1139.2 L1788.3,1142 L1779.2,1145.5 L1769.4,1148.3 L1758.1,1151.8 L1744.1,1155.4 L1730,1158.2 L1720.9,1162.6 L1698.9,1170.6 L1677,1176.2 L1647.7,1179.7 L1604,1181.1 L1602.4,1165 L1603.9,1151.9 L1608.3,1135.8Z" fill="#fff" filter="url(#b1)"/>
<path d="M1776,1133 L1800,1122 L1822,1111.5 L1840.9,1105 L1840.9,1128 L1816,1131 L1813.8,1124.5 L1800.3,1126.6 L1787,1130.6Z" fill="#1466e8" opacity="0.9" filter="url(#b1)"/>
<path d="M1790,1124.5 Q1814,1117.2 1838,1107.5" stroke="#0030b8" stroke-width="2.6" fill="none" opacity="0.9" filter="url(#b1)"/>
<path d="M1808,1123 Q1823,1119.2 1838,1113" stroke="#58a8ff" stroke-width="2.2" fill="none" opacity="0.9" filter="url(#b1)"/>
<path d="M1815,1134 Q1826.5,1130.2 1838,1124" stroke="#0a3cc8" stroke-width="3" fill="none" opacity="0.9" filter="url(#b1)"/>
<path d="M1756.7,1134.3 Q1767.95,1132.45 1779.2,1128.2" stroke="#4c94f0" stroke-width="1.2" fill="none" opacity="0.9" filter="url(#b1)"/>
<path d="M1773.6,1134.6 Q1777.8,1134.1 1782,1131.2" stroke="#2a86f4" stroke-width="3" fill="none" opacity="0.95" filter="url(#b1)"/>
<path d="M1796,1144.5 Q1817,1138.45 1838,1130" stroke="#3c94ff" stroke-width="3" fill="none" opacity="0.9" filter="url(#b1)"/>
<path d="M1800,1150 Q1819,1145.2 1838,1138" stroke="#0c48d0" stroke-width="3" fill="none" opacity="0.9" filter="url(#b1)"/>
<path d="M1745,1160.5 Q1772.5,1154.45 1800,1146" stroke="#1c74f0" stroke-width="3.2" fill="none" opacity="0.9" filter="url(#b1)"/>
<path d="M1735,1163.5 Q1755,1160.45 1775,1155" stroke="#0a44cc" stroke-width="2.2" fill="none" opacity="0.85" filter="url(#b1)"/>
<path d="M1771,1163 Q1793,1156.5 1815.5,1148.6" stroke="#fff" stroke-width="5.2" stroke-linecap="round" fill="none" filter="url(#b1)"/>
<path d="M1757,1171 Q1772,1168 1789,1162.8" stroke="#fff" stroke-width="3.4" stroke-linecap="round" fill="none" filter="url(#b1)"/>
<path d="M1728,1161.2 Q1740,1162 1750,1164" stroke="#fff" stroke-width="2.4" stroke-linecap="round" fill="none" filter="url(#b1)"/>
<path d="M1790,1158.6 Q1800,1157 1812,1152.6" stroke="#2a80f4" stroke-width="1.3" fill="none" opacity="0.9"/>
<path d="M1591.48,1122.6 H1628.9M1592.85,1127 H1626.7M1591.33,1131.4 H1624.5M1587.07,1135.8 H1622.3M1587.21,1140.2 H1621.1M1579.87,1144.6 H1619.9M1585.99,1149 H1618.69M1581.7,1153.4 H1617.73M1582.16,1157.8 H1617.22M1573.23,1162.2 H1616.72M1574.39,1166.6 H1616.4M1574.73,1171 H1616.4M1576.19,1175.4 H1616.4M1573.69,1179.8 H1616.4" stroke="#fff" stroke-width="2.2" fill="none"/>
<path d="M1595.15,1124.8 H1609.85M1588.12,1129.2 H1610.94M1587.47,1133.6 H1608.71M1585.21,1138 H1609.53M1584.8,1142.4 H1602.52M1581.95,1146.8 H1600.58M1587.33,1151.2 H1605.2M1580.5,1155.6 H1598.07M1579.77,1160 H1603.36M1578.31,1164.4 H1600.44M1577.35,1168.8 H1598.21M1579.55,1173.2 H1605.83M1579.72,1177.6 H1606.22" stroke="#0a3cc0" stroke-width="2.2" fill="none" opacity="0.9"/>
<path d="M1596.26,1124.8 H1622.72M1594.05,1129.2 H1619.79M1597.43,1133.6 H1616.75M1595.46,1138 H1618.03M1595.39,1142.4 H1614.44M1593.62,1146.8 H1610.02M1586.4,1151.2 H1611.41M1587.95,1155.6 H1614.21M1591.64,1160 H1607.14M1592.44,1164.4 H1610.89M1588.55,1168.8 H1607.93M1584.6,1173.2 H1605.58M1586.1,1177.6 H1608.33" stroke="#3c7ce8" stroke-width="1.6" fill="none" opacity="0.9"/>
<path d="M1550,1184 h30.24M1549.09,1188.3 h31.21M1547.59,1192.6 h34.7M1545.5,1196.9 h54.83M1542.83,1201.2 h35.11M1539.56,1205.5 h49.65M1535.7,1209.8 h54.17M1531.25,1214.1 h54.49M1526.22,1218.4 h38.95M1520.59,1222.7 h39.22M1514.38,1227 h43.64M1507.57,1231.3 h50.17M1500.18,1235.6 h32.81M1492.19,1239.9 h49.46" stroke="#000" stroke-width="1.9" fill="none" opacity="0.85"/>
<path d="M1500,1060 L1603,1060 L1588,1108 L1573.5,1147 L1556,1193 L1538,1221 L1510,1236 L1478,1250 L1440,1255 L1440,1060Z" fill="#000" filter="url(#b1)"/>
<path d="M161.4,1290.2 L600,1290.3 L950,1293.6 L1400,1294 L1838.9,1291.6 L1838.9,1303.2 L161.4,1303.2Z" fill="#000"/>
</g>
<g clip-path="url(#cp1)" stroke="#fff" stroke-width="3" fill="none" stroke-dasharray="3 8.03">
<path d="M163.7,68.7 V601.4M233.43,68.7 V601.4M303.16,68.7 V601.4M372.89,68.7 V601.4M442.62,68.7 V601.4M512.35,68.7 V601.4M582.08,68.7 V601.4M651.8,68.7 V601.4M721.53,68.7 V601.4M791.26,68.7 V601.4M860.99,68.7 V601.4M930.72,68.7 V601.4M1000.45,68.7 V601.4M1070.18,68.7 V601.4M1139.91,68.7 V601.4M1209.64,68.7 V601.4M1279.37,68.7 V601.4M1349.1,68.7 V601.4M1418.83,68.7 V601.4M1488.55,68.7 V601.4M1558.28,68.7 V601.4M1628.01,68.7 V601.4M1697.74,68.7 V601.4M1767.47,68.7 V601.4M1836.7,68.7 V601.4"/>
<path d="M163.7,120.62 H1836.9M163.7,174.04 H1836.9M163.7,227.46 H1836.9M163.7,280.88 H1836.9M163.7,334.3 H1836.9M163.7,387.72 H1836.9M163.7,441.14 H1836.9M163.7,494.56 H1836.9M163.7,547.98 H1836.9"/>
</g>
<path d="M368.5,601.4 V81.2" stroke="#1766cc" stroke-width="3.6" stroke-dasharray="16.2 15.3" fill="none"/>
<g clip-path="url(#cp2)" stroke="#fff" stroke-width="3" fill="none" stroke-dasharray="3 8.03">
<path d="M163.7,768.6 V1301.2M233.43,768.6 V1301.2M303.16,768.6 V1301.2M372.89,768.6 V1301.2M442.62,768.6 V1301.2M512.35,768.6 V1301.2M582.08,768.6 V1301.2M651.8,768.6 V1301.2M721.53,768.6 V1301.2M791.26,768.6 V1301.2M860.99,768.6 V1301.2M930.72,768.6 V1301.2M1000.45,768.6 V1301.2M1070.18,768.6 V1301.2M1139.91,768.6 V1301.2M1209.64,768.6 V1301.2M1279.37,768.6 V1301.2M1349.1,768.6 V1301.2M1418.83,768.6 V1301.2M1488.55,768.6 V1301.2M1558.28,768.6 V1301.2M1628.01,768.6 V1301.2M1697.74,768.6 V1301.2M1767.47,768.6 V1301.2M1836.7,768.6 V1301.2"/>
<path d="M163.7,820.51 H1836.9M163.7,873.92 H1836.9M163.7,927.33 H1836.9M163.7,980.74 H1836.9M163.7,1034.15 H1836.9M163.7,1087.56 H1836.9M163.7,1140.97 H1836.9M163.7,1194.38 H1836.9M163.7,1247.79 H1836.9"/>
</g>
<path d="M368.5,1301.2 V781.1" stroke="#1766cc" stroke-width="3.6" stroke-dasharray="16.2 15.3" fill="none"/>
<path d="M138.3,67.2 H163.9M151.2,77.88 H163.9M151.2,88.57 H163.9M151.2,99.25 H163.9M151.2,109.94 H163.9M151.2,120.62 H163.9M151.2,131.3 H163.9M151.2,141.99 H163.9M151.2,152.67 H163.9M151.2,163.36 H163.9M138.3,174.04 H163.9M151.2,184.72 H163.9M151.2,195.41 H163.9M151.2,206.09 H163.9M151.2,216.78 H163.9M151.2,227.46 H163.9M151.2,238.14 H163.9M151.2,248.83 H163.9M151.2,259.51 H163.9M151.2,270.2 H163.9M138.3,280.88 H163.9M151.2,291.56 H163.9M151.2,302.25 H163.9M151.2,312.93 H163.9M151.2,323.62 H163.9M151.2,334.3 H163.9M151.2,344.98 H163.9M151.2,355.67 H163.9M151.2,366.35 H163.9M151.2,377.04 H163.9M138.3,387.72 H163.9M151.2,398.4 H163.9M151.2,409.09 H163.9M151.2,419.77 H163.9M151.2,430.46 H163.9M151.2,441.14 H163.9M151.2,451.82 H163.9M151.2,462.51 H163.9M151.2,473.19 H163.9M151.2,483.88 H163.9M138.3,494.56 H163.9M151.2,505.24 H163.9M151.2,515.93 H163.9M151.2,526.61 H163.9M151.2,537.3 H163.9M151.2,547.98 H163.9M151.2,558.66 H163.9M151.2,569.35 H163.9M151.2,580.03 H163.9M151.2,590.72 H163.9M138.3,601.4 H163.9M163.4,600.9 V609.4M233.13,600.9 V605.4M302.86,600.9 V605.4M372.59,600.9 V605.4M442.32,600.9 V605.4M512.05,600.9 V605.4M581.77,600.9 V609.4M651.5,600.9 V605.4M721.23,600.9 V605.4M790.96,600.9 V605.4M860.69,600.9 V605.4M930.42,600.9 V605.4M1000.15,600.9 V609.4M1069.88,600.9 V605.4M1139.61,600.9 V605.4M1209.34,600.9 V605.4M1279.07,600.9 V605.4M1348.8,600.9 V605.4M1418.53,600.9 V609.4M1488.25,600.9 V605.4M1557.98,600.9 V605.4M1627.71,600.9 V605.4M1697.44,600.9 V605.4M1767.17,600.9 V605.4M1836.9,600.9 V609.4M163.4,601.4 H1836.9" stroke="#222" stroke-width="1.1" fill="none"/>
<path d="M138.3,767.1 H163.9M151.2,777.78 H163.9M151.2,788.46 H163.9M151.2,799.15 H163.9M151.2,809.83 H163.9M151.2,820.51 H163.9M151.2,831.19 H163.9M151.2,841.87 H163.9M151.2,852.56 H163.9M151.2,863.24 H163.9M138.3,873.92 H163.9M151.2,884.6 H163.9M151.2,895.28 H163.9M151.2,905.97 H163.9M151.2,916.65 H163.9M151.2,927.33 H163.9M151.2,938.01 H163.9M151.2,948.69 H163.9M151.2,959.38 H163.9M151.2,970.06 H163.9M138.3,980.74 H163.9M151.2,991.42 H163.9M151.2,1002.1 H163.9M151.2,1012.79 H163.9M151.2,1023.47 H163.9M151.2,1034.15 H163.9M151.2,1044.83 H163.9M151.2,1055.51 H163.9M151.2,1066.2 H163.9M151.2,1076.88 H163.9M138.3,1087.56 H163.9M151.2,1098.24 H163.9M151.2,1108.92 H163.9M151.2,1119.61 H163.9M151.2,1130.29 H163.9M151.2,1140.97 H163.9M151.2,1151.65 H163.9M151.2,1162.33 H163.9M151.2,1173.02 H163.9M151.2,1183.7 H163.9M138.3,1194.38 H163.9M151.2,1205.06 H163.9M151.2,1215.74 H163.9M151.2,1226.43 H163.9M151.2,1237.11 H163.9M151.2,1247.79 H163.9M151.2,1258.47 H163.9M151.2,1269.15 H163.9M151.2,1279.84 H163.9M151.2,1290.52 H163.9M138.3,1301.2 H163.9M163.4,1300.7 V1309.2M233.13,1300.7 V1305.2M302.86,1300.7 V1305.2M372.59,1300.7 V1305.2M442.32,1300.7 V1305.2M512.05,1300.7 V1305.2M581.77,1300.7 V1309.2M651.5,1300.7 V1305.2M721.23,1300.7 V1305.2M790.96,1300.7 V1305.2M860.69,1300.7 V1305.2M930.42,1300.7 V1305.2M1000.15,1300.7 V1309.2M1069.88,1300.7 V1305.2M1139.61,1300.7 V1305.2M1209.34,1300.7 V1305.2M1279.07,1300.7 V1305.2M1348.8,1300.7 V1305.2M1418.53,1300.7 V1309.2M1488.25,1300.7 V1305.2M1557.98,1300.7 V1305.2M1627.71,1300.7 V1305.2M1697.44,1300.7 V1305.2M1767.17,1300.7 V1305.2M1836.9,1300.7 V1309.2M163.4,1301.2 H1836.9" stroke="#222" stroke-width="1.1" fill="none"/>
<text x="1000.6" y="51.6" font-size="41.9" text-anchor="middle">Northern hemisphere</text>
<text x="1000.3" y="751.8" font-size="41.9" text-anchor="middle">Southern hemisphere</text>
<text transform="translate(163.8,655.6) scale(0.985,1.045)" font-size="37.6" text-anchor="middle">0</text>
<text transform="translate(582.17,655.6) scale(0.985,1.045)" font-size="37.6" text-anchor="middle">90</text>
<text transform="translate(1000.55,655.6) scale(0.985,1.045)" font-size="37.6" text-anchor="middle">180</text>
<text transform="translate(1418.93,655.6) scale(0.985,1.045)" font-size="37.6" text-anchor="middle">270</text>
<text transform="translate(1837.3,655.6) scale(0.985,1.045)" font-size="37.6" text-anchor="middle">360</text>
<text x="999.3" y="695.3" font-size="37.6" text-anchor="middle" letter-spacing="-0.36">SIII Longitude (<tspan font-size="16.5" dy="-17.2">o</tspan><tspan dy="17.2">)</tspan></text>
<text transform="translate(163.8,1355.4) scale(0.985,1.045)" font-size="37.6" text-anchor="middle">0</text>
<text transform="translate(582.17,1355.4) scale(0.985,1.045)" font-size="37.6" text-anchor="middle">90</text>
<text transform="translate(1000.55,1355.4) scale(0.985,1.045)" font-size="37.6" text-anchor="middle">180</text>
<text transform="translate(1418.93,1355.4) scale(0.985,1.045)" font-size="37.6" text-anchor="middle">270</text>
<text transform="translate(1837.3,1355.4) scale(0.985,1.045)" font-size="37.6" text-anchor="middle">360</text>
<text x="999.3" y="1395.1" font-size="37.6" text-anchor="middle" letter-spacing="-0.36">SIII Longitude (<tspan font-size="16.5" dy="-17.2">o</tspan><tspan dy="17.2">)</tspan></text>
<text transform="translate(129.2,89.3) scale(0.985,1.045)" font-size="37.6" text-anchor="end">90</text>
<text transform="translate(129.2,187.04) scale(0.985,1.045)" font-size="37.6" text-anchor="end">80</text>
<text transform="translate(129.2,293.88) scale(0.985,1.045)" font-size="37.6" text-anchor="end">70</text>
<text transform="translate(129.2,400.72) scale(0.985,1.045)" font-size="37.6" text-anchor="end">60</text>
<text transform="translate(129.2,507.56) scale(0.985,1.045)" font-size="37.6" text-anchor="end">50</text>
<text transform="translate(129.2,601.4) scale(0.985,1.045)" font-size="37.6" text-anchor="end">40</text>
<text transform="translate(129.2,789.2) scale(0.985,1.045)" font-size="37.6" text-anchor="end">-40</text>
<text transform="translate(129.2,886.92) scale(0.985,1.045)" font-size="37.6" text-anchor="end">-50</text>
<text transform="translate(129.2,993.74) scale(0.985,1.045)" font-size="37.6" text-anchor="end">-60</text>
<text transform="translate(129.2,1100.56) scale(0.985,1.045)" font-size="37.6" text-anchor="end">-70</text>
<text transform="translate(129.2,1207.38) scale(0.985,1.045)" font-size="37.6" text-anchor="end">-80</text>
<text transform="translate(129.2,1301.2) scale(0.985,1.045)" font-size="37.6" text-anchor="end">-90</text>
<text transform="translate(59.5,334) rotate(-90)" font-size="37.6" text-anchor="middle" letter-spacing="-0.36">Latitude (<tspan font-size="16.5" dy="-17.2">o</tspan><tspan dy="17.2">)</tspan></text>
<text transform="translate(47.1,1034) rotate(-90)" font-size="37.6" text-anchor="middle" letter-spacing="-0.36">Latitude (<tspan font-size="16.5" dy="-17.2">o</tspan><tspan dy="17.2">)</tspan></text>
<rect x="1851.2" y="1090.3" width="37.5" height="209" fill="url(#cbar)" stroke="#000" stroke-width="2.2"/>
<path d="M1852.1,1292.4 h2.4 M1887.8,1292.4 h-2.4M1852.1,1285.4 h2.4 M1887.8,1285.4 h-2.4M1852.1,1278.4 h2.4 M1887.8,1278.4 h-2.4M1852.1,1271.4 h4.2 M1887.8,1271.4 h-4.2M1852.1,1264.4 h2.4 M1887.8,1264.4 h-2.4M1852.1,1257.4 h2.4 M1887.8,1257.4 h-2.4M1852.1,1250.4 h2.4 M1887.8,1250.4 h-2.4M1852.1,1243.4 h4.2 M1887.8,1243.4 h-4.2M1852.1,1236.4 h2.4 M1887.8,1236.4 h-2.4M1852.1,1229.4 h2.4 M1887.8,1229.4 h-2.4M1852.1,1222.4 h2.4 M1887.8,1222.4 h-2.4M1852.1,1215.4 h4.2 M1887.8,1215.4 h-4.2M1852.1,1208.4 h2.4 M1887.8,1208.4 h-2.4M1852.1,1201.4 h2.4 M1887.8,1201.4 h-2.4M1852.1,1194.4 h2.4 M1887.8,1194.4 h-2.4M1852.1,1187.4 h4.2 M1887.8,1187.4 h-4.2M1852.1,1180.4 h2.4 M1887.8,1180.4 h-2.4M1852.1,1173.4 h2.4 M1887.8,1173.4 h-2.4M1852.1,1166.4 h2.4 M1887.8,1166.4 h-2.4M1852.1,1159.4 h4.2 M1887.8,1159.4 h-4.2M1852.1,1152.4 h2.4 M1887.8,1152.4 h-2.4M1852.1,1145.4 h2.4 M1887.8,1145.4 h-2.4M1852.1,1138.4 h2.4 M1887.8,1138.4 h-2.4M1852.1,1131.4 h4.2 M1887.8,1131.4 h-4.2M1852.1,1124.4 h2.4 M1887.8,1124.4 h-2.4M1852.1,1117.4 h2.4 M1887.8,1117.4 h-2.4M1852.1,1110.4 h2.4 M1887.8,1110.4 h-2.4M1852.1,1103.4 h4.2 M1887.8,1103.4 h-4.2M1852.1,1096.4 h2.4 M1887.8,1096.4 h-2.4M1858.04,1091.2 v2.4M1865.98,1091.2 v2.4M1873.92,1091.2 v2.4M1881.86,1091.2 v2.4" stroke="#000" stroke-width="1.3" fill="none"/>
<text transform="translate(1897,1282.1) scale(0.985,1.045)" font-size="29.8" text-anchor="start">200</text>
<text transform="translate(1897,1254.1) scale(0.985,1.045)" font-size="29.8" text-anchor="start">400</text>
<text transform="translate(1897,1226.1) scale(0.985,1.045)" font-size="29.8" text-anchor="start">600</text>
<text transform="translate(1897,1198.1) scale(0.985,1.045)" font-size="29.8" text-anchor="start">800</text>
<text transform="translate(1897,1170.1) scale(0.985,1.045)" font-size="29.8" text-anchor="start">1000</text>
<text transform="translate(1897,1142.1) scale(0.985,1.045)" font-size="29.8" text-anchor="start">1200</text>
<text transform="translate(1897,1114.1) scale(0.985,1.045)" font-size="29.8" text-anchor="start">1400</text>
<text x="1838.6" y="1077.2" font-size="28.6">kR H<tspan font-size="11.5" dx="1.5" dy="4.3">2</tspan></text>
</svg></body></html>
